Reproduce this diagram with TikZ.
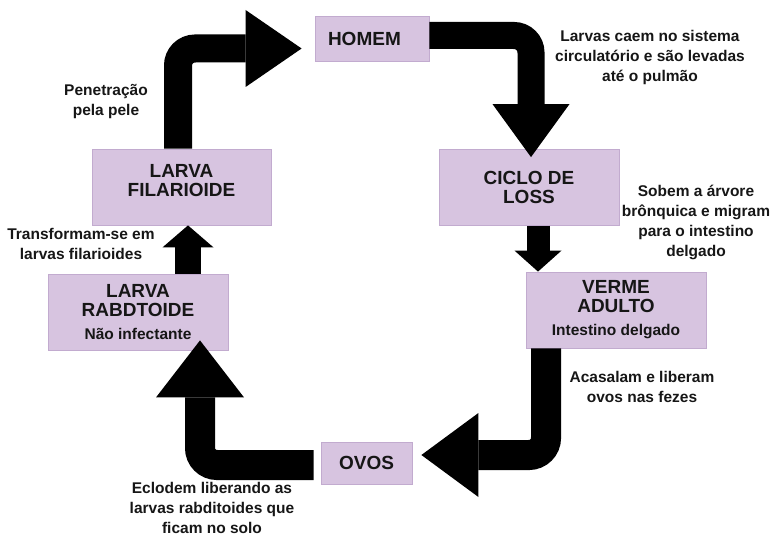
\documentclass[tikz,border=0pt]{standalone}
\usepackage{fontspec}
\setmainfont{Liberation Sans}
\usetikzlibrary{arrows.meta}

\definecolor{lilas}{HTML}{D7C4E0}
\definecolor{lilasborda}{HTML}{C2ABCF}
\definecolor{tinta}{HTML}{161616}

\tikzset{
  caixa/.style={draw=lilasborda, fill=lilas, line width=0.8pt,
    minimum width=180pt, minimum height=76pt, inner sep=2pt,
    align=center, text=tinta, font=\fontsize{19}{19}\selectfont\bfseries},
  nota/.style={align=center, text=tinta, font=\fontsize{15.5}{20}\selectfont\bfseries},
  seta/.style={line width=28pt, rounded corners=17pt, black},
}
\newcommand{\obs}[1]{{\fontsize{15.5}{19}\selectfont #1}}

\begin{document}
\begin{tikzpicture}[x=1pt, y=-1pt]
	\useasboundingbox (0,0) rectangle (774,537);

	% etapas do ciclo
	\node[caixa, minimum width=114pt, minimum height=45pt, text width=88pt, align=left] (homem) at (372,38.5) {HOMEM};
	\node[caixa] (loss) at (529,187.5) {CICLO DE\\LOSS};
	\node[caixa, minimum width=179pt] (fil) at (181.5,187) {LARVA\\FILARIOIDE\\[-5pt]\mbox{}};
	\node[caixa] (rab) at (138,312) {LARVA\\RABDTOIDE\\[4pt]\obs{Não infectante}};
	\node[caixa] (verme) at (616,310) {VERME\\ADULTO\\[4pt]\obs{Intestino delgado}};
	\node[caixa, minimum width=91pt, minimum height=42pt] (ovos) at (366.5,463) {OVOS};

	% textos ao lado das setas
	\node[nota] (pele) at (106,102) {Penetração\\pela pele};
	\node[nota] (pulmao) at (650,57) {Larvas caem no sistema\\circulatório e são levadas\\até o pulmão};
	\node[nota] (bronquios) at (696,222.5) {Sobem a árvore\\brônquica e migram\\para o intestino\\delgado};
	\node[nota] (transf) at (81,244) {Transformam-se em\\larvas filarioides};
	\node[nota] (fezes) at (642,387) {Acasalam e liberam\\ovos nas fezes};
	\node[nota] (solo) at (212,508) {Eclodem liberando as\\larvas rabditoides que\\ficam no solo};

	% setas
	\draw[seta, -{Triangle[width=77pt, length=56pt, line width=0pt]}, shorten >=13pt]
		([xshift=-3.5pt]fil.north) |- ([yshift=-10pt]homem.west);
	\draw[seta, line width=27pt, -{Triangle[width=77pt, length=53pt, line width=0pt]}]
		([yshift=3pt]homem.east) -| ([xshift=2pt, yshift=-8pt]loss.north);
	\draw[seta, line width=23pt, -{Triangle[width=47pt, length=21pt, line width=0pt]}]
		([xshift=9pt]loss.south) -- ([xshift=-78pt]verme.north);
	\draw[seta, line width=30pt, -{Triangle[width=84pt, length=57pt, line width=0pt]}, shorten >=9pt]
		([xshift=-70pt]verme.south) |- ([yshift=8pt]ovos.east);
	\draw[seta, line width=30pt, -{Triangle[width=88pt, length=57pt, line width=0pt]}, shorten <=7pt]
		([yshift=-2pt]ovos.west) -| ([shift={(62pt,10pt)}]rab.south);
	\draw[seta, line width=26pt, -{Triangle[width=51pt, length=22pt, line width=0pt]}]
		([xshift=50pt]rab.north) -- ([xshift=6.5pt]fil.south);
\end{tikzpicture}
\end{document}
